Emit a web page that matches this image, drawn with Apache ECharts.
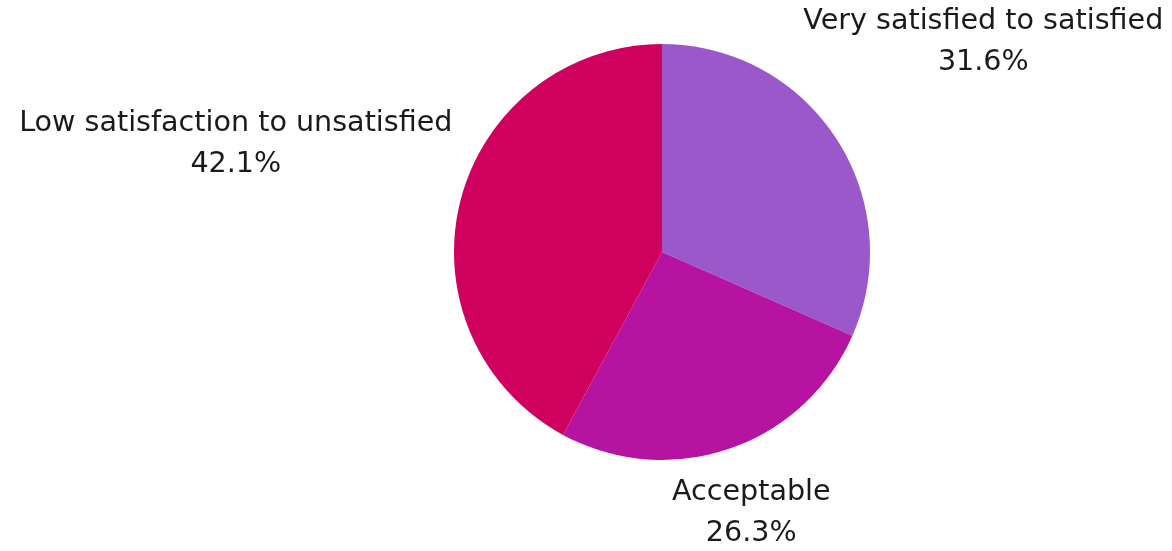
<!DOCTYPE html>
<html>
<head>
<meta charset="utf-8">
<script src="https://cdn.jsdelivr.net/npm/echarts@6/dist/echarts.min.js"></script>
<style>
  html, body { margin: 0; padding: 0; background: #ffffff; }
  #chart { width: 1172px; height: 551px; }
</style>
</head>
<body>
<div id="chart"></div>
<script>
// Survey satisfaction shares (percent), clockwise from 12 o'clock
const categories = ['Very satisfied to satisfied', 'Acceptable', 'Low satisfaction to unsatisfied'];
const shares = [31.6, 26.3, 42.1];
const sliceColors = ['#9A58CB', '#B713A1', '#D0005E'];

const chartEl = document.getElementById('chart');
const chart = echarts.init(chartEl);

const CX = 662, CY = 252, R = 208;   // pie centre and radius in px
const LABEL_GAP = 12;                // clearance between pie edge and label box

// mid-angle (clockwise from top, radians) of each slice
const total = shares.reduce((a, b) => a + b, 0);
const midAngles = [];
let acc = 0;
shares.forEach(v => { midAngles.push(((acc + v / 2) / total) * Math.PI * 2); acc += v; });

// push each label block outward along its slice's mid-angle until its
// nearest point clears the pie by LABEL_GAP
function placeLabel(idx, w, h) {
  const ux = Math.sin(midAngles[idx]), uy = -Math.cos(midAngles[idx]);
  const target = R + LABEL_GAP;
  let lo = 0, hi = 2000;
  for (let i = 0; i < 60; i++) {
    const t = (lo + hi) / 2;
    const dx = Math.max(0, Math.abs(t * ux) - w / 2);
    const dy = Math.max(0, Math.abs(t * uy) - h / 2);
    if (Math.hypot(dx, dy) < target) lo = t; else hi = t;
  }
  return { x: CX + lo * ux, y: CY + lo * uy };
}

chart.setOption({
  backgroundColor: '#ffffff',
  animation: false,
  series: [{
    type: 'pie',
    center: [CX, CY],
    radius: [0, R],
    startAngle: 90,
    clockwise: true,
    avoidLabelOverlap: false,
    data: categories.map((name, i) => ({
      name: name,
      value: shares[i],
      itemStyle: { color: sliceColors[i] }
    })),
    itemStyle: { borderWidth: 0 },
    label: {
      show: true,
      position: 'outside',
      formatter: p => p.name + '\n' + p.value.toFixed(1) + '%',
      fontFamily: '"DejaVu Sans", sans-serif',
      fontSize: 28.6,
      lineHeight: 41,
      color: '#1a1a1a'
    },
    labelLine: { show: false },
    labelLayout: function (params) {
      const w = params.labelRect.width, h = params.labelRect.height;
      const pos = placeLabel(params.dataIndex, w, h);
      return { x: pos.x, y: pos.y, align: 'center', verticalAlign: 'middle', hideOverlap: false };
    },
    emphasis: { disabled: true }
  }]
});
</script>
</body>
</html>
